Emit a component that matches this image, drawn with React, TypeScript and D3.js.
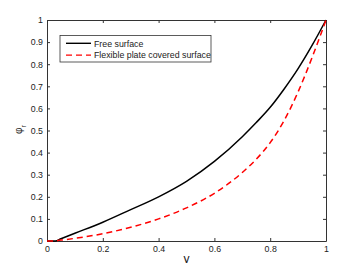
import React, {useRef, useEffect} from 'react';
import * as d3 from 'd3';

// values
const yPos = [0, 0.03, 0.05, 0.1, 0.2, 0.3, 0.4, 0.5, 0.6, 0.7, 0.75, 0.8, 0.85, 0.9, 0.95, 1.0]
const freeSurface = [0, 0, 0.01, 0.035, 0.085, 0.142, 0.2, 0.27, 0.36, 0.472, 0.536, 0.605, 0.688, 0.78, 0.885, 1.0]
const plateSurface = [0, 0.001, 0.004, 0.012, 0.033, 0.062, 0.1, 0.15, 0.216, 0.31, 0.37, 0.445, 0.545, 0.675, 0.83, 1.0]
const xTicks = [0, 0.2, 0.4, 0.6, 0.8, 1]
const yTicks = [0, 0.1, 0.2, 0.3, 0.4, 0.5, 0.6, 0.7, 0.8, 0.9, 1]
const legendLabels = ['Free surface', 'Flexible plate covered surface']

function App(){
    const canvas = useRef(null)

    useEffect(() => {
        const marging = {top:20, right:34, bottom:30, left:47}
        const W = 360, H = 271
        const width = W - marging.left - marging.right
        const height = H - marging.top - marging.bottom
        const font = '"Liberation Sans", Arial, sans-serif'
        const axisColor = '#333'

        d3.select(canvas.current).select('svg').remove()
        const root = d3.select(canvas.current)
                    .append('svg')
                    .attr('width', W)
                    .attr('height', H)
                    .style('display', 'block')
        root.append('rect').attr('width', W).attr('height', H).attr('fill', 'white')
        const svg = root.append('g')
                    .attr('transform', `translate(${marging.left},${marging.top})`)

        const x = d3.scaleLinear().domain([0,1]).range([0,width])
        const y = d3.scaleLinear().domain([0,1]).range([height,0])

        // inward ticks, matlab style box
        const bottom = svg.append('g').attr('transform', `translate(0,${height})`)
            .call(d3.axisBottom(x).tickValues(xTicks).tickSizeInner(-3).tickSizeOuter(0).tickPadding(5).tickFormat(d3.format('')))
        const top = svg.append('g')
            .call(d3.axisTop(x).tickValues(xTicks).tickSizeInner(-3).tickSizeOuter(0).tickFormat(() => ''))
        const left = svg.append('g')
            .call(d3.axisLeft(y).tickValues(yTicks).tickSizeInner(-3).tickSizeOuter(0).tickPadding(4).tickFormat(d3.format('')))
        const right = svg.append('g').attr('transform', `translate(${width},0)`)
            .call(d3.axisRight(y).tickValues(yTicks).tickSizeInner(-3).tickSizeOuter(0).tickFormat(() => ''))
        for (const a of [bottom, top, left, right]) {
            a.select('.domain').attr('stroke', axisColor).attr('stroke-width', 1)
            a.selectAll('line').attr('stroke', axisColor)
            a.selectAll('text').attr('fill', '#222').style('font-family', font).style('font-size', '8.8px')
        }

        const line = (vals) => d3.line()
            .x((d, i) => x(yPos[i]))
            .y((d) => y(d))
            .curve(d3.curveMonotoneX)(vals)

        svg.append('path').attr('d', line(freeSurface))
            .attr('fill', 'none').attr('stroke', 'black').attr('stroke-width', 1.5)
        svg.append('path').attr('d', line(plateSurface))
            .attr('fill', 'none').attr('stroke', '#ff0000').attr('stroke-width', 1.5)
            .attr('stroke-dasharray', '6,4')

        // legend
        const lg = svg.append('g').attr('transform', 'translate(13,15.5)')
        lg.append('rect').attr('width', 151).attr('height', 26.5)
            .attr('fill', 'white').attr('stroke', axisColor).attr('stroke-width', 0.8)
        legendLabels.forEach((lab, i) => {
            const yy = 7.8 + i * 11.8
            lg.append('line').attr('x1', 6).attr('x2', 31).attr('y1', yy).attr('y2', yy)
                .attr('stroke', i === 0 ? 'black' : '#ff0000').attr('stroke-width', 1.4)
                .attr('stroke-dasharray', i === 0 ? null : '6,4')
            lg.append('text').attr('x', 34).attr('y', yy + 3.2)
                .style('font-family', font).style('font-size', '8.8px').attr('fill', '#222')
                .text(lab)
        })

        // axis labels
        root.append('text').attr('x', marging.left + width/2).attr('y', 263)
            .attr('text-anchor', 'middle').style('font-family', font).style('font-size', '12px')
            .attr('fill', '#222').text('y')
        const yl = root.append('text').attr('transform', 'translate(21.5,129.5) rotate(-90)')
            .attr('text-anchor', 'middle').style('font-family', font).style('font-size', '10px').attr('fill', '#222')
        yl.append('tspan').text('φ')
        yl.append('tspan').attr('dy', 4.5).style('font-size', '7px').text('r')
    }, [])

    return (
        <div ref={canvas} style={{margin: -8}}>
            {}
        </div>
    )
}

export default App
